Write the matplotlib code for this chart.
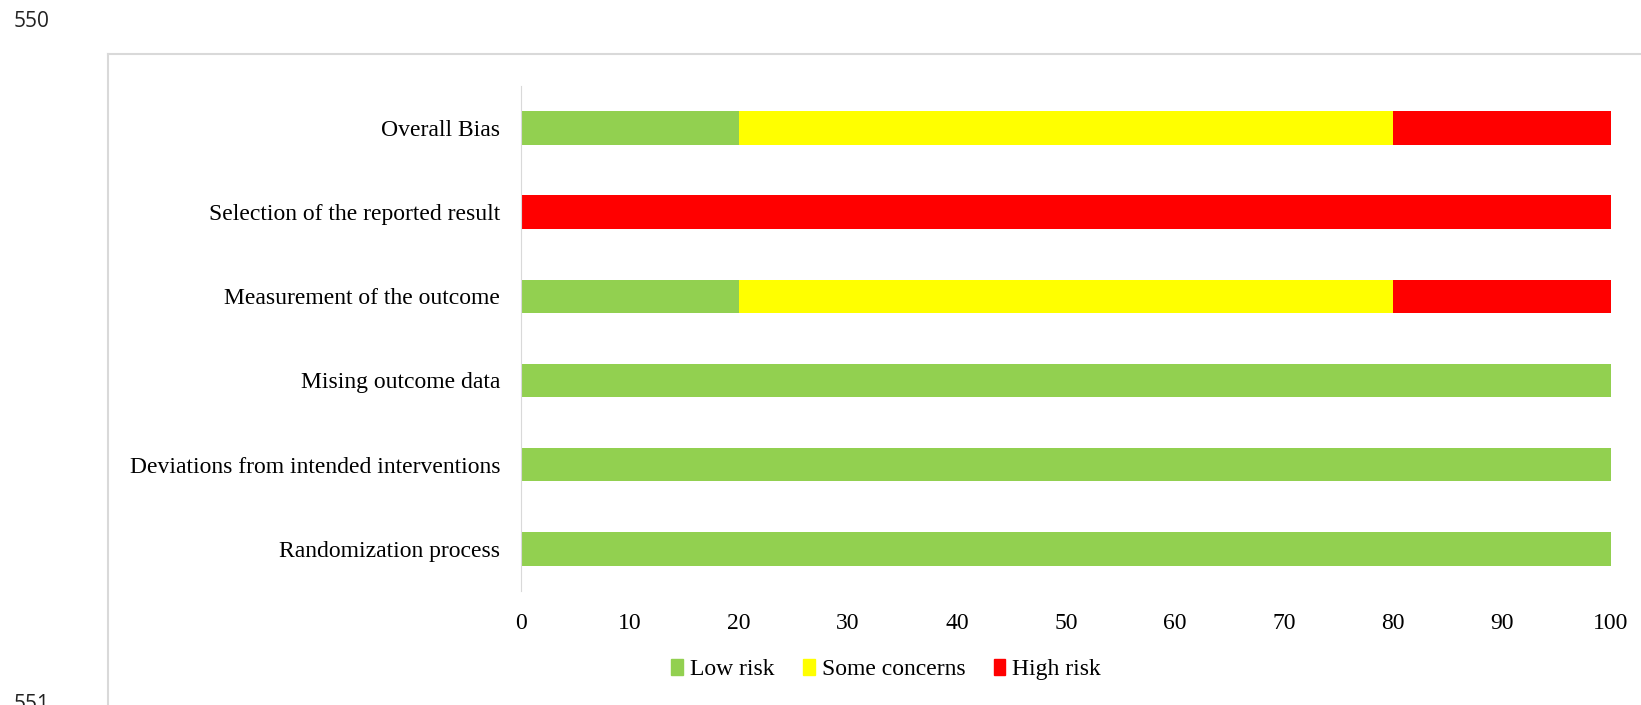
import numpy as np
import matplotlib.pyplot as plt
from matplotlib.lines import Line2D
from matplotlib.patches import Patch

# domains, bottom to top as in the chart
domains = ['Randomization process',
           'Deviations from intended interventions',
           'Mising outcome data',
           'Measurement of the outcome',
           'Selection of the reported result',
           'Overall Bias']
low_risk = [100, 100, 100, 20, 0, 20]
some_concerns = [0, 0, 0, 60, 0, 60]
high_risk = [0, 0, 0, 20, 100, 20]
xticks = [0, 10, 20, 30, 40, 50, 60, 70, 80, 90, 100]

green = '#92D050'
yellow = '#FFFF00'
red = '#FF0000'

plt.rcParams['font.family'] = ['Liberation Serif', 'DejaVu Serif']

fig = plt.figure(figsize=(16.41, 7.05), dpi=100)
ax = fig.add_axes([0.3175, 0.162, 0.6642, 0.716])

y = np.arange(len(domains))
low = np.array(low_risk)
mid = np.array(some_concerns)
high = np.array(high_risk)
ax.barh(y, low, height=0.4, color=green, label='Low risk')
ax.barh(y, mid, left=low, height=0.4, color=yellow, label='Some concerns')
ax.barh(y, high, left=low + mid, height=0.4, color=red, label='High risk')

ax.set_ylim(-0.5, len(domains) - 0.5)
ax.set_xlim(0, 100)
ax.set_yticks(y)
ax.set_yticklabels(domains, fontsize=17)
ax.set_xticks(xticks)
ax.set_xticklabels([str(t) for t in xticks], fontsize=17)
ax.tick_params(length=0)
ax.tick_params(axis='x', pad=16)
ax.tick_params(axis='y', pad=15)
for s in ['top', 'right', 'bottom']:
    ax.spines[s].set_visible(False)
ax.spines['left'].set_color('#d9d9d9')

handles = [Patch(color=green, label='Low risk'),
           Patch(color=yellow, label='Some concerns'),
           Patch(color=red, label='High risk')]
fig.legend(handles=handles, loc='center', bbox_to_anchor=(0.540, 0.050),
           ncol=3, frameon=False, fontsize=17, handlelength=0.5,
           handleheight=0.65, handletextpad=0.3, columnspacing=1.2)

# chart frame (runs off the right and bottom edge of the page crop)
fig.add_artist(Line2D([0.0658, 0.0658], [0.0, 0.9234], color='#d9d9d9', lw=1.5,
                      transform=fig.transFigure))
fig.add_artist(Line2D([0.0658, 1.0], [0.9234, 0.9234], color='#d9d9d9', lw=1.5,
                      transform=fig.transFigure))

# line numbers from the manuscript page
fig.text(0.008, 0.969, '550', fontsize=15, family='Open Sans', color='#222222', va='center')
fig.text(0.008, 0.0, '551', fontsize=15, family='Open Sans', color='#222222', va='center')

fig.savefig('out.png', dpi=100)
